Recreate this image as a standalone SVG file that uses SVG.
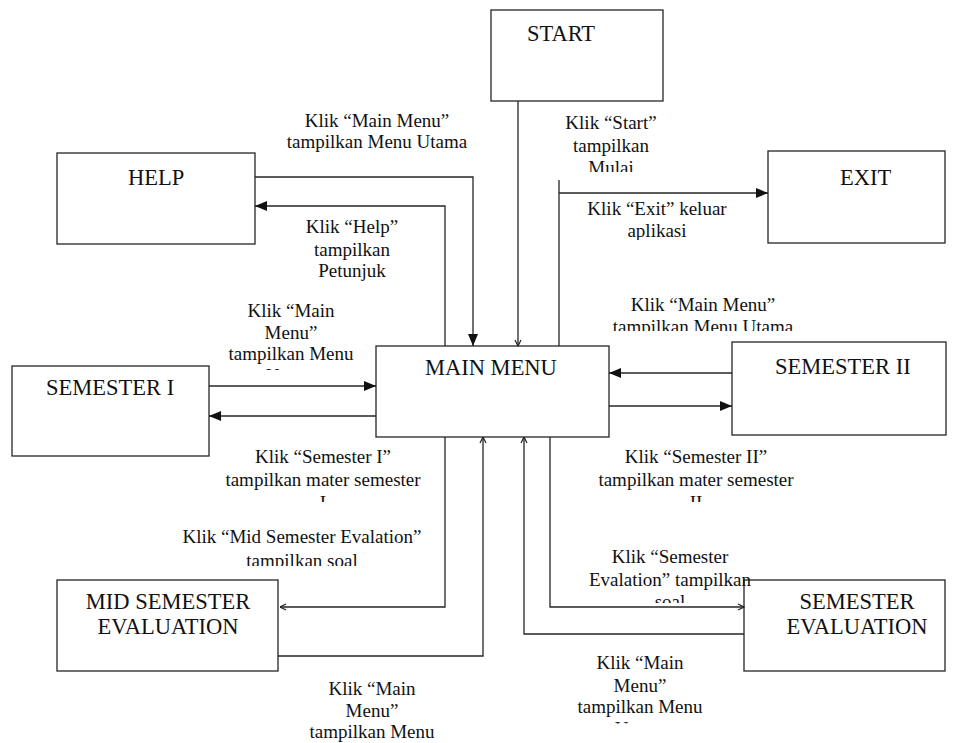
<svg xmlns="http://www.w3.org/2000/svg" width="958" height="743" viewBox="0 0 958 743">
  <style>
    .box { fill: #ffffff; stroke: #262626; stroke-width: 1.3; }
    .node-label { font-family: "Liberation Serif", "Times New Roman", serif; font-size: 22.5px; fill: #111111; }
    .edge { fill: none; stroke: #262626; stroke-width: 1.3; }
    .edge-label { font-family: "Liberation Serif", "Times New Roman", serif; font-size: 19px; fill: #111111; text-anchor: middle; }
  </style>
  <defs>
    <marker id="tri" viewBox="0 0 12 10" refX="12" refY="5" markerWidth="12" markerHeight="10" markerUnits="userSpaceOnUse" orient="auto">
      <path d="M0,0 L12,5 L0,10 z" fill="#111111"/>
    </marker>
    <marker id="vee" viewBox="0 0 8 8" refX="7.5" refY="4" markerWidth="8" markerHeight="8" markerUnits="userSpaceOnUse" orient="auto">
      <path d="M1.5,1 L7.5,4 L1.5,7" fill="none" stroke="#222222" stroke-width="1.2"/>
    </marker>
    <!-- label frames: text running past the bottom edge of its frame is cut off -->
    <clipPath id="clip-start"><rect x="540" y="100" width="150" height="72"/></clipPath>
    <clipPath id="clip-exit"><rect x="570" y="190" width="180" height="50"/></clipPath>
    <clipPath id="clip-sem1-back"><rect x="220" y="290" width="150" height="80"/></clipPath>
    <clipPath id="clip-sem2-back"><rect x="590" y="290" width="230" height="41"/></clipPath>
    <clipPath id="clip-sem1"><rect x="210" y="440" width="230" height="62"/></clipPath>
    <clipPath id="clip-mid"><rect x="170" y="520" width="270" height="46"/></clipPath>
    <clipPath id="clip-sem2"><rect x="580" y="440" width="230" height="62"/></clipPath>
    <clipPath id="clip-semeval"><rect x="570" y="540" width="200" height="63"/></clipPath>
    <clipPath id="clip-semeval-back"><rect x="560" y="645" width="160" height="78.5"/></clipPath>
  </defs>

  <!-- nodes -->
  <g id="start">
    <rect class="box" x="491" y="10" width="172" height="91"/>
    <text class="node-label" x="527" y="41">START</text>
  </g>
  <g id="help">
    <rect class="box" x="57" y="153" width="198" height="91"/>
    <text class="node-label" x="128" y="185">HELP</text>
  </g>
  <g id="exit">
    <rect class="box" x="768" y="151" width="177" height="92"/>
    <text class="node-label" x="840" y="185">EXIT</text>
  </g>
  <g id="main-menu">
    <rect class="box" x="376" y="346" width="233" height="91"/>
    <text class="node-label" x="425" y="375">MAIN MENU</text>
  </g>
  <g id="semester-2">
    <rect class="box" x="732" y="342" width="214" height="93"/>
    <text class="node-label" x="775" y="374">SEMESTER II</text>
  </g>
  <g id="semester-1">
    <rect class="box" x="12" y="366" width="197" height="90"/>
    <text class="node-label" x="46" y="395">SEMESTER I</text>
  </g>
  <g id="mid-semester-evaluation">
    <rect class="box" x="57" y="580" width="221" height="91"/>
    <text class="node-label" text-anchor="middle" x="168" y="609">MID SEMESTER</text>
    <text class="node-label" text-anchor="middle" x="168" y="634">EVALUATION</text>
  </g>
  <g id="semester-evaluation">
    <rect class="box" x="744" y="580" width="201" height="91"/>
    <text class="node-label" text-anchor="middle" x="857" y="609">SEMESTER</text>
    <text class="node-label" text-anchor="middle" x="857" y="634">EVALUATION</text>
  </g>

  <!-- connectors -->
  <g id="connectors">
    <path class="edge" d="M255,177 H473 V346" marker-end="url(#tri)"/>
    <path class="edge" d="M445,346 V206 H255" marker-end="url(#tri)"/>
    <path class="edge" d="M518,101 V346" marker-end="url(#vee)"/>
    <path class="edge" d="M559,346 V180 M559,193 H768" marker-end="url(#tri)"/>
    <path class="edge" d="M732,373 H609" marker-end="url(#tri)"/>
    <path class="edge" d="M609,406 H732" marker-end="url(#tri)"/>
    <path class="edge" d="M209,386 H376" marker-end="url(#tri)"/>
    <path class="edge" d="M376,416 H209" marker-end="url(#tri)"/>
    <path class="edge" d="M445,437 V607 H280" marker-end="url(#vee)"/>
    <path class="edge" d="M278,656 H483 V437" marker-end="url(#vee)"/>
    <path class="edge" d="M550,437 V607 H744" marker-end="url(#vee)"/>
    <path class="edge" d="M744,634 H524 V437" marker-end="url(#vee)"/>
  </g>

  <!-- connector labels -->
  <g id="labels">
    <text class="edge-label" x="377" y="127">Klik “Main Menu”</text>
    <text class="edge-label" x="377" y="148">tampilkan Menu Utama</text>

    <text class="edge-label" x="352" y="233">Klik “Help”</text>
    <text class="edge-label" x="352" y="256">tampilkan</text>
    <text class="edge-label" x="352" y="277">Petunjuk</text>

    <g clip-path="url(#clip-start)">
      <text class="edge-label" x="611" y="129">Klik “Start”</text>
      <text class="edge-label" x="611" y="152">tampilkan</text>
      <text class="edge-label" x="611" y="174">Mulai</text>
    </g>

    <g clip-path="url(#clip-exit)">
      <text class="edge-label" x="657" y="215">Klik “Exit” keluar</text>
      <text class="edge-label" x="657" y="237">aplikasi</text>
    </g>

    <g clip-path="url(#clip-sem1-back)">
      <text class="edge-label" x="291" y="317">Klik “Main</text>
      <text class="edge-label" x="291" y="339">Menu”</text>
      <text class="edge-label" x="291" y="360">tampilkan Menu</text>
      <text class="edge-label" x="291" y="382">Utama</text>
    </g>

    <g clip-path="url(#clip-sem2-back)">
      <text class="edge-label" x="703" y="311">Klik “Main Menu”</text>
      <text class="edge-label" x="703" y="333">tampilkan Menu Utama</text>
    </g>

    <g clip-path="url(#clip-sem1)">
      <text class="edge-label" x="323" y="463">Klik “Semester I”</text>
      <text class="edge-label" x="323" y="486">tampilkan mater semester</text>
      <text class="edge-label" x="323" y="509">I</text>
    </g>

    <g clip-path="url(#clip-mid)">
      <text class="edge-label" x="302" y="543">Klik “Mid Semester Evalation”</text>
      <text class="edge-label" x="302" y="567">tampilkan soal</text>
    </g>

    <g clip-path="url(#clip-sem2)">
      <text class="edge-label" x="696" y="463">Klik “Semester II”</text>
      <text class="edge-label" x="696" y="486">tampilkan mater semester</text>
      <text class="edge-label" x="696" y="509">II</text>
    </g>

    <g clip-path="url(#clip-semeval)">
      <text class="edge-label" x="670" y="563">Klik “Semester</text>
      <text class="edge-label" x="670" y="586">Evalation” tampilkan</text>
      <text class="edge-label" x="670" y="608">soal</text>
    </g>

    <text class="edge-label" x="372" y="695">Klik “Main</text>
    <text class="edge-label" x="372" y="717">Menu”</text>
    <text class="edge-label" x="372" y="738">tampilkan Menu</text>

    <g clip-path="url(#clip-semeval-back)">
      <text class="edge-label" x="640" y="669">Klik “Main</text>
      <text class="edge-label" x="640" y="692">Menu”</text>
      <text class="edge-label" x="640" y="713">tampilkan Menu</text>
      <text class="edge-label" x="640" y="735">Utama</text>
    </g>
  </g>
</svg>
